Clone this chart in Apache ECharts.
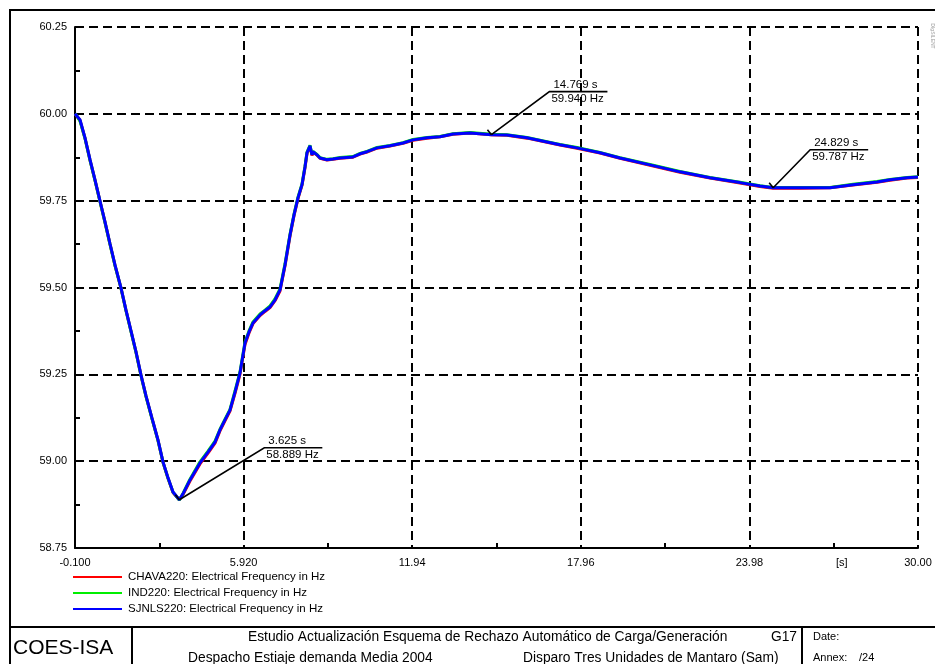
<!DOCTYPE html>
<html>
<head>
<meta charset="utf-8">
<script src="https://cdn.jsdelivr.net/npm/echarts@6/dist/echarts.min.js"></script>
<style>
html, body { margin: 0; padding: 0; background: #fff; }
#container { width: 935px; height: 664px; }
</style>
</head>
<body>
<div id="container"></div>
<script>
// time in s
var times = [-0.100, -0.029, 0.079, 0.257, 0.436, 0.614, 0.793, 0.971, 1.150, 1.328,
    1.542, 1.721, 1.900, 2.078, 2.257, 2.435, 2.649, 2.864, 3.042, 3.221,
    3.399, 3.625, 3.756, 4.006, 4.363, 4.649, 4.899, 5.077, 5.256, 5.434,
    5.613, 5.791, 5.970, 6.113, 6.256, 6.506, 6.684, 6.863, 7.041, 7.220,
    7.398, 7.577, 7.720, 7.862, 8.005, 8.112, 8.184, 8.291, 8.362, 8.398,
    8.541, 8.648, 8.898, 9.112, 9.362, 9.826, 10.076, 10.326, 10.683, 11.147,
    11.611, 11.968, 12.468, 12.932, 13.397, 14.004, 14.769, 15.325, 16.039, 16.753,
    17.217, 17.824, 18.646, 19.360, 20.431, 21.502, 22.573, 23.644, 24.358, 24.829,
    25.787, 26.858, 27.679, 28.536, 29.000, 29.607, 30.000];

// frequency in Hz
var chavaFreq = [60.000, 59.996, 59.981, 59.930, 59.867, 59.809, 59.748, 59.688, 59.625, 59.564,
    59.498, 59.434, 59.374, 59.314, 59.247, 59.187, 59.123, 59.060, 58.997, 58.951,
    58.910, 58.889, 58.904, 58.943, 58.992, 59.023, 59.052, 59.087, 59.116, 59.144,
    59.195, 59.250, 59.336, 59.369, 59.396, 59.419, 59.431, 59.442, 59.462, 59.490,
    59.562, 59.648, 59.707, 59.756, 59.794, 59.845, 59.886, 59.906, 59.880, 59.890,
    59.881, 59.872, 59.867, 59.869, 59.872, 59.875, 59.884, 59.890, 59.901, 59.907,
    59.915, 59.924, 59.930, 59.934, 59.941, 59.945, 59.940, 59.938, 59.930, 59.918,
    59.910, 59.901, 59.887, 59.872, 59.852, 59.832, 59.815, 59.801, 59.791, 59.786,
    59.786, 59.787, 59.795, 59.803, 59.809, 59.815, 59.817];

var indFreq = [60.000, 59.994, 59.979, 59.929, 59.866, 59.808, 59.747, 59.687, 59.624, 59.563,
    59.498, 59.433, 59.373, 59.313, 59.246, 59.186, 59.122, 59.059, 58.997, 58.951,
    58.911, 58.888, 58.907, 58.948, 58.998, 59.029, 59.058, 59.092, 59.121, 59.149,
    59.202, 59.257, 59.343, 59.375, 59.401, 59.424, 59.435, 59.447, 59.467, 59.496,
    59.568, 59.653, 59.711, 59.760, 59.798, 59.849, 59.890, 59.909, 59.883, 59.892,
    59.883, 59.874, 59.869, 59.871, 59.874, 59.877, 59.886, 59.892, 59.903, 59.909,
    59.917, 59.926, 59.932, 59.935, 59.943, 59.946, 59.941, 59.940, 59.932, 59.920,
    59.912, 59.903, 59.889, 59.874, 59.854, 59.834, 59.817, 59.803, 59.793, 59.788,
    59.788, 59.788, 59.797, 59.805, 59.811, 59.817, 59.819];

var sjnlsFreq = [60.000, 59.997, 59.983, 59.931, 59.868, 59.810, 59.749, 59.689, 59.626, 59.565,
    59.499, 59.435, 59.375, 59.315, 59.248, 59.188, 59.124, 59.061, 58.998, 58.952,
    58.911, 58.889, 58.906, 58.946, 58.995, 59.026, 59.055, 59.090, 59.119, 59.147,
    59.199, 59.254, 59.340, 59.372, 59.398, 59.421, 59.433, 59.444, 59.464, 59.493,
    59.565, 59.651, 59.709, 59.758, 59.796, 59.847, 59.888, 59.908, 59.882, 59.891,
    59.882, 59.873, 59.868, 59.870, 59.873, 59.876, 59.885, 59.891, 59.902, 59.908,
    59.916, 59.925, 59.931, 59.934, 59.942, 59.945, 59.940, 59.939, 59.931, 59.919,
    59.911, 59.902, 59.888, 59.873, 59.853, 59.833, 59.816, 59.802, 59.792, 59.787,
    59.787, 59.787, 59.796, 59.804, 59.810, 59.816, 59.818];

var seriesNames = ['CHAVA220: Electrical Frequency in Hz', 'IND220: Electrical Frequency in Hz', 'SJNLS220: Electrical Frequency in Hz'];
var xTickLabels = ['-0.100', '5.920', '11.94', '17.96', '23.98', '30.00'];

// callouts: time, freq
var calloutTimes = [3.625, 14.769, 24.829];
var calloutFreqs = [58.889, 59.940, 59.787];
// leader offsets in px (layout only)
var calloutLeader = [[85, -52], [58, -43], [37, -38]];

var FONT = '"Liberation Sans", Arial, sans-serif';

function pairs(vals) {
    return times.map(function(t, i) { return [t, vals[i]]; });
}

function lineSeries(name, vals, color) {
    return {
        name: name,
        type: 'line',
        data: pairs(vals),
        showSymbol: false,
        symbol: 'none',
        lineStyle: { color: color, width: 3 },
        itemStyle: { color: color },
        animation: false
    };
}

var myChart = echarts.init(document.getElementById('container'), null, { renderer: 'canvas' });

myChart.setOption({
    backgroundColor: '#fff',
    animation: false,
    textStyle: { fontFamily: FONT },
    grid: { left: 75, right: 17, top: 27, bottom: 116 },
    legend: {
        orient: 'vertical',
        left: 73,
        top: 571,
        padding: 0,
        itemWidth: 49,
        itemHeight: 2,
        itemGap: 4,
        icon: 'rect',
        data: seriesNames,
        textStyle: { fontSize: 11.5, color: '#000', fontFamily: FONT, padding: [0, 0, 0, 1] }
    },
    xAxis: {
        type: 'value',
        min: -0.1,
        max: 30,
        interval: 6.02,
        axisLine: { onZero: false, lineStyle: { color: '#000', width: 2 } },
        axisTick: { show: false, inside: true },
        minorTick: { show: true, splitNumber: 2, length: 5, lineStyle: { color: '#000', width: 2 } },
        axisLabel: {
            color: '#000', fontSize: 11, margin: 9, fontFamily: FONT,
            formatter: function(v) { return xTickLabels[Math.round((v + 0.1) / 6.02)]; }
        },
        splitLine: { show: true, lineStyle: { color: '#000', width: 2, type: [9, 5] } },
        minorSplitLine: { show: false }
    },
    yAxis: {
        type: 'value',
        min: 58.75,
        max: 60.25,
        interval: 0.25,
        axisLine: { show: true, onZero: false, lineStyle: { color: '#000', width: 2 } },
        axisTick: { show: false, inside: true },
        minorTick: { show: true, splitNumber: 2, length: 5, lineStyle: { color: '#000', width: 2 } },
        axisLabel: {
            color: '#000', fontSize: 11, margin: 8, fontFamily: FONT,
            formatter: function(v) { return v.toFixed(2); }
        },
        splitLine: { show: true, lineStyle: { color: '#000', width: 2, type: [9, 5] } }
    },
    series: [
        lineSeries(seriesNames[0], chavaFreq, '#ff0000'),
        lineSeries(seriesNames[1], indFreq, '#00ee00'),
        lineSeries(seriesNames[2], sjnlsFreq, '#0000ff'),
        {
            type: 'custom',
            silent: true,
            z: 10,
            data: calloutTimes.map(function(t, i) { return [t, calloutFreqs[i]]; }),
            renderItem: function(params, api) {
                var t = api.value(0), f = api.value(1);
                var p = api.coord([t, f]);
                var off = calloutLeader[params.dataIndex];
                var cx = p[0] + off[0], cy = p[1] + off[1];
                return {
                    type: 'group',
                    children: [{
                        type: 'polyline',
                        shape: { points: [p, [cx, cy], [cx + 58, cy]] },
                        style: { stroke: '#000', lineWidth: 1.6, fill: null }
                    }, {
                        type: 'polyline',
                        shape: { points: [[p[0] - 4, p[1] - 5], p] },
                        style: { stroke: '#000', lineWidth: 1.6, fill: null }
                    }, {
                        type: 'text',
                        x: cx + 4, y: cy - 1,
                        style: { text: t.toFixed(3) + ' s', font: '11.5px ' + FONT, fill: '#000', verticalAlign: 'bottom' }
                    }, {
                        type: 'text',
                        x: cx + 2, y: cy + 1,
                        style: { text: f.toFixed(3) + ' Hz', font: '11.5px ' + FONT, fill: '#000', verticalAlign: 'top' }
                    }]
                };
            }
        }
    ],
    graphic: [
        { type: 'rect', shape: { x: 10, y: 10, width: 940, height: 680 }, style: { fill: null, stroke: '#000', lineWidth: 2 } },
        { type: 'line', shape: { x1: 10, y1: 627, x2: 935, y2: 627 }, style: { stroke: '#000', lineWidth: 2 } },
        { type: 'line', shape: { x1: 132, y1: 627, x2: 132, y2: 664 }, style: { stroke: '#000', lineWidth: 2 } },
        { type: 'line', shape: { x1: 802, y1: 627, x2: 802, y2: 664 }, style: { stroke: '#000', lineWidth: 2 } },
        { type: 'text', x: 836, y: 563, style: { text: '[s]', font: '11px ' + FONT, fill: '#000', verticalAlign: 'middle' } },
        { type: 'text', x: 932, y: 36, rotation: -Math.PI / 2, style: { text: 'DIgSILENT', font: '5px ' + FONT, fill: '#999', align: 'center', verticalAlign: 'middle' } },
        { type: 'text', x: 13, y: 648, style: { text: 'COES-ISA', font: '21px ' + FONT, fill: '#000', verticalAlign: 'middle' } },
        { type: 'text', x: 248, y: 637, style: { text: 'Estudio Actualización Esquema de Rechazo Automático de Carga/Generación', font: '13.8px ' + FONT, fill: '#000', verticalAlign: 'middle' } },
        { type: 'text', x: 797, y: 637, style: { text: 'G17', font: '13.8px ' + FONT, fill: '#000', align: 'right', verticalAlign: 'middle' } },
        { type: 'text', x: 188, y: 658, style: { text: 'Despacho Estiaje demanda Media 2004', font: '13.8px ' + FONT, fill: '#000', verticalAlign: 'middle' } },
        { type: 'text', x: 523, y: 658, style: { text: 'Disparo Tres Unidades de Mantaro (Sam)', font: '13.8px ' + FONT, fill: '#000', verticalAlign: 'middle' } },
        { type: 'text', x: 813, y: 637, style: { text: 'Date:', font: '11px ' + FONT, fill: '#000', verticalAlign: 'middle' } },
        { type: 'text', x: 813, y: 658, style: { text: 'Annex:', font: '11px ' + FONT, fill: '#000', verticalAlign: 'middle' } },
        { type: 'text', x: 859, y: 658, style: { text: '/24', font: '11px ' + FONT, fill: '#000', verticalAlign: 'middle' } }
    ]
});
</script>
</body>
</html>
